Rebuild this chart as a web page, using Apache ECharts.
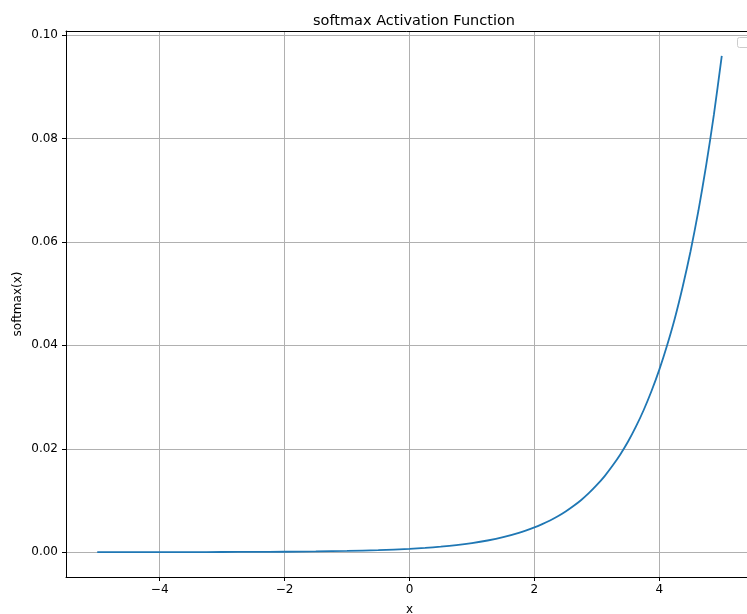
<!DOCTYPE html>
<html>
<head>
<meta charset="utf-8">
<script src="https://cdn.jsdelivr.net/npm/echarts@6/dist/echarts.min.js"></script>
<style>
  html, body { margin: 0; padding: 0; background: #fff; }
  #chart { width: 747px; height: 614px; }
</style>
</head>
<body>
<div id="chart"></div>
<script>
// Sample points of the softmax curve (denser where it climbs steeply)
const xs = [-5, -4.5, -4, -3.5, -3, -2.5, -2, -1.5, -1, -0.5,
            0, 0.25, 0.5, 0.75, 1, 1.25, 1.5, 1.75,
            2, 2.125, 2.25, 2.375, 2.5, 2.625, 2.75, 2.875,
            3, 3.125, 3.25, 3.375, 3.5, 3.625, 3.75, 3.875,
            4, 4.125, 4.25, 4.375, 4.5, 4.625, 4.75, 4.875, 5];
const ys = [0.000004, 0.000007, 0.000012, 0.000019, 0.000032, 0.000053, 0.000088, 0.000144, 0.000238, 0.000392,
            0.00065, 0.00083, 0.00107, 0.00137, 0.00176, 0.00226, 0.00290, 0.00372,
            0.00478, 0.00542, 0.00614, 0.00695, 0.00788, 0.00893, 0.0101, 0.01146,
            0.0130, 0.01472, 0.0167, 0.0189, 0.0214, 0.02427, 0.0275, 0.03117,
            0.0353, 0.04002, 0.0453, 0.05139, 0.0582, 0.06598, 0.0748, 0.08472, 0.0960];

const xTicks = [-4, -2, 0, 2, 4];
const yTicks = [0, 0.02, 0.04, 0.06, 0.08, 0.10];

const FONT = 'DejaVu Sans';
const minus = s => String(s).replace('-', '\u2212');

const chart = echarts.init(document.getElementById('chart'), null, { renderer: 'canvas' });

chart.setOption({
  animation: false,
  backgroundColor: '#ffffff',
  title: {
    text: 'softmax Activation Function',
    left: 409,
    top: 9,
    textAlign: 'center',
    textStyle: { fontFamily: FONT, fontSize: 14.5, fontWeight: 'normal', color: '#000' }
  },
  grid: { left: 66, right: -6, top: 31, bottom: 37, containLabel: false, outerBoundsMode: 'none' },
  xAxis: [{
    type: 'value',
    min: -5.5,
    max: 5.5,
    name: 'x',
    nameLocation: 'middle',
    nameGap: 27,
    nameMoveOverlap: false,
    nameTextStyle: { fontFamily: FONT, fontSize: 12, color: '#000' },
    axisLine: { onZero: false, lineStyle: { color: '#000', width: 1 } },
    axisTick: { show: true, length: 4, customValues: xTicks, lineStyle: { color: '#000', width: 1 } },
    axisLabel: {
      customValues: xTicks,
      fontFamily: FONT, fontSize: 12, color: '#000', margin: 7,
      formatter: v => minus(v)
    },
    splitLine: { show: true, lineStyle: { color: '#b0b0b0', width: 1 } }
  }, {
    // top frame edge
    type: 'value',
    position: 'top',
    min: -5.5,
    max: 5.5,
    axisLine: { show: true, onZero: false, lineStyle: { color: '#000', width: 1 } },
    axisTick: { show: false },
    axisLabel: { show: false },
    splitLine: { show: false }
  }],
  yAxis: {
    type: 'value',
    min: -0.0048,
    max: 0.1008,
    name: 'softmax(x)',
    nameLocation: 'middle',
    nameGap: 42,
    nameRotate: 90,
    nameMoveOverlap: false,
    nameTextStyle: { fontFamily: FONT, fontSize: 12, color: '#000' },
    axisLine: { show: true, onZero: false, lineStyle: { color: '#000', width: 1 } },
    axisTick: { show: true, length: 4, customValues: yTicks, lineStyle: { color: '#000', width: 1 } },
    axisLabel: {
      customValues: yTicks,
      fontFamily: FONT, fontSize: 12, color: '#000', margin: 8,
      formatter: v => v.toFixed(2)
    },
    splitLine: { show: true, lineStyle: { color: '#b0b0b0', width: 1 } }
  },
  graphic: [
    {
      type: 'rect',
      shape: { x: 737.5, y: 37.5, width: 12, height: 10, r: 2 },
      style: { fill: '#fff', stroke: '#cccccc', lineWidth: 1 },
      z: 100
    }
  ],
  series: [{
    type: 'line',
    xAxisIndex: 0,
    data: xs.map((x, i) => [x, ys[i]]),
    showSymbol: false,
    smooth: 0.25,
    lineStyle: { color: '#1f77b4', width: 1.8 },
    clip: true
  }]
});
</script>
</body>
</html>
